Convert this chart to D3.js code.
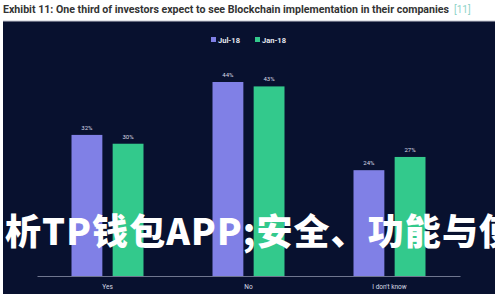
<!DOCTYPE html>
<html>
<head>
<meta charset="utf-8">
<script src="https://cdn.jsdelivr.net/npm/d3@7"></script>
<style>
  body { margin: 0; background: #fff; }
  svg { display: block; }
</style>
</head>
<body>
<svg id="chart" width="500" height="300"></svg>
<script>
// chart data
var categories = ["Yes", "No", "I don't know"];
var seriesNames = ["Jul-18", "Jan-18"];
var jul18 = [32, 44, 24];
var jan18 = [30, 43, 27];

var colors = ["#8080e6", "#33c98c"];

var svg = d3.select("#chart");

// title
svg.append("text")
    .attr("x", 3)
    .attr("y", 13)
    .attr("textLength", 446)
    .attr("lengthAdjust", "spacingAndGlyphs")
    .style("font-family", "Roboto, 'Liberation Sans', sans-serif")
    .style("font-size", "10.5px")
    .style("font-weight", "bold")
    .attr("fill", "#333")
    .text("Exhibit 11: One third of investors expect to see Blockchain implementation in their companies");
svg.append("text")
    .attr("x", 454)
    .attr("y", 13)
    .style("font-family", "Roboto, sans-serif")
    .style("font-size", "10px")
    .attr("fill", "#8fd3c8")
    .text("[11]");

// dark panel
svg.append("rect")
    .attr("x", 3).attr("y", 21)
    .attr("width", 492).attr("height", 273)
    .attr("fill", "#08112f");
svg.append("line")
    .attr("x1", 3).attr("x2", 495)
    .attr("y1", 21).attr("y2", 21)
    .attr("stroke", "#c5c8d2").attr("stroke-width", 1);

var baseline = 276;

var x0 = d3.scaleBand().domain(categories).range([37, 460]).padding(0);
var x1 = d3.scaleBand().domain(seriesNames).range([-36, 36]).paddingInner(0.25);
var y = d3.scaleLinear().domain([0, 44]).range([baseline, 82]);

var rows = categories.map(function (c, i) {
    return {cat: c, values: [jul18[i], jan18[i]]};
});

var groups = svg.selectAll(".grp")
    .data(rows)
    .enter().append("g")
    .attr("class", "grp")
    .attr("transform", function (d) { return "translate(" + (x0(d.cat) + x0.bandwidth() / 2) + ",0)"; });

groups.selectAll("rect")
    .data(function (d) { return d.values.map(function (v, j) { return {s: seriesNames[j], v: v, j: j}; }); })
    .enter().append("rect")
    .attr("x", function (d) { return x1(d.s); })
    .attr("y", function (d) { return y(d.v); })
    .attr("width", x1.bandwidth())
    .attr("height", function (d) { return baseline - y(d.v); })
    .attr("fill", function (d) { return colors[d.j]; });

groups.selectAll(".val")
    .data(function (d) { return d.values.map(function (v, j) { return {s: seriesNames[j], v: v}; }); })
    .enter().append("text")
    .attr("class", "val")
    .attr("x", function (d) { return x1(d.s) + x1.bandwidth() / 2; })
    .attr("y", function (d) { return y(d.v) - 5; })
    .attr("text-anchor", "middle")
    .style("font-family", "Roboto, sans-serif")
    .style("font-size", "6px")
    .attr("fill", "#d8dbe6")
    .text(function (d) { return d.v + "%"; });

// x axis
var xAxis = svg.append("g")
    .attr("transform", "translate(0," + baseline + ")")
    .call(d3.axisBottom(x0).tickSize(0).tickPadding(8));
xAxis.select(".domain").attr("stroke", "#8a91a8").attr("stroke-width", 0.8);
xAxis.selectAll("text")
    .style("font-family", "Roboto, sans-serif")
    .style("font-size", "6.5px")
    .attr("fill", "#d8dbe6");

// legend
var legend = svg.append("g").attr("transform", "translate(211,40)");
var lx = [0, 44];
seriesNames.forEach(function (s, i) {
    legend.append("rect")
        .attr("x", lx[i]).attr("y", -3)
        .attr("width", 5).attr("height", 5)
        .attr("fill", colors[i]);
    legend.append("text")
        .attr("x", lx[i] + 7).attr("y", 2.5)
        .style("font-family", "Roboto, sans-serif")
        .style("font-size", "7.5px")
        .style("font-weight", "bold")
        .attr("fill", "#e6e8f0")
        .text(s);
});

// overlay caption
svg.append("text")
    .attr("x", 5)
    .attr("y", 245)
    .attr("textLength", 510)
    .attr("lengthAdjust", "spacing")
    .style("font-family", "'Noto Sans CJK SC', sans-serif")
    .style("font-size", "36px")
    .style("font-weight", "900")
    .attr("fill", "#ffffff")
    .text("析TP钱包APP;安全、功能与使");
</script>
</body>
</html>
